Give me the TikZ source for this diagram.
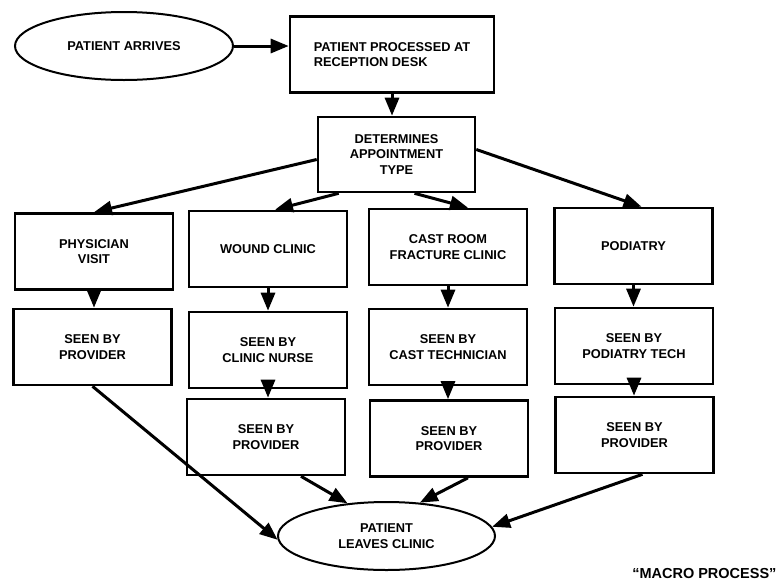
\documentclass[tikz,border=0pt]{standalone}
\usepackage{fontspec}
\setmainfont{Liberation Sans}
\usetikzlibrary{arrows.meta,shapes.geometric}
\tikzset{
  every node/.style={font=\fontsize{12.8}{15.5}\selectfont\bfseries},
  box/.style={draw,line width=2.6pt,minimum width=158pt,minimum height=76pt,
    align=center,inner sep=2pt},
  oval/.style={draw,ellipse,line width=2pt,minimum width=218pt,
    minimum height=68pt,align=center,inner sep=0pt},
  flow/.style={line width=3pt,-{Triangle[length=18pt,width=14pt]}}}
\newcommand{\cbox}[4]{\node[box] (#1) at (#2,#3) {#4};}
\newcommand{\pdown}[2]{\draw[flow] (#1.south) -- (#1.south |- #2.north);}

\begin{document}
\begin{tikzpicture}[x=1pt,y=-1pt]
  \useasboundingbox (0,0) rectangle (782,582);
  \node[oval] (arrive) at (124,46) {PATIENT ARRIVES};
  \node[box,minimum width=204pt,align=left] (recep) at (392,54.5)
    {PATIENT PROCESSED AT\\RECEPTION DESK};
  \node[box,minimum width=157pt,minimum height=75pt] (determ) at (396.5,154.5)
    {DETERMINES\\APPOINTMENT\\TYPE};
  \cbox{phys}{94}{251.5}{PHYSICIAN\\VISIT}
  \cbox{wound}{268}{249}{WOUND CLINIC}
  \cbox{cast}{448}{247}{CAST ROOM\\FRACTURE CLINIC}
  \cbox{podia}{633.5}{246}{PODIATRY}
  \cbox{physprov}{92.5}{347}{SEEN BY\\PROVIDER}
  \cbox{nurse}{268}{350}{SEEN BY\\CLINIC NURSE}
  \cbox{tech}{448}{347}{SEEN BY\\CAST TECHNICIAN}
  \cbox{podtech}{634}{346}{SEEN BY\\PODIATRY TECH}
  \cbox{wprov}{266}{437}{SEEN BY\\PROVIDER}
  \cbox{cprov}{449}{438.5}{SEEN BY\\PROVIDER}
  \cbox{pprov}{634.5}{435}{SEEN BY\\PROVIDER}
  \node[oval,minimum width=217pt] (leave) at (386.5,536) {PATIENT\\LEAVES CLINIC};
  \node[anchor=east,font=\fontsize{14.5}{16}\selectfont\bfseries] (macro) at (780,573)
    {“MACRO PROCESS”};
  \draw[flow] (arrive.east) -- (arrive.east -| recep.west);
  \pdown{recep}{determ}
  \draw[flow] ([yshift=-5pt]determ.west) -- (phys.north);
  \draw[flow] ([xshift=22pt]determ.south west) -- ([xshift=7pt]wound.north);
  \draw[flow] ([xshift=18pt]determ.south) -- ([xshift=20pt]cast.north);
  \draw[flow] ([yshift=5pt]determ.east) -- ([xshift=8pt]podia.north);
  \pdown{phys}{physprov}
  \pdown{wound}{nurse}
  \pdown{nurse}{wprov}
  \pdown{cast}{tech}
  \pdown{tech}{cprov}
  \pdown{podia}{podtech}
  \pdown{podtech}{pprov}
  \draw[flow] (physprov.south) -- (leave.182);
  \draw[flow] ([xshift=35pt]wprov.south) -- (leave.140);
  \draw[flow] ([xshift=19pt]cprov.south) -- (leave.45);
  \draw[flow] ([xshift=8pt]pprov.south) -- (leave.5);
\end{tikzpicture}
\end{document}
